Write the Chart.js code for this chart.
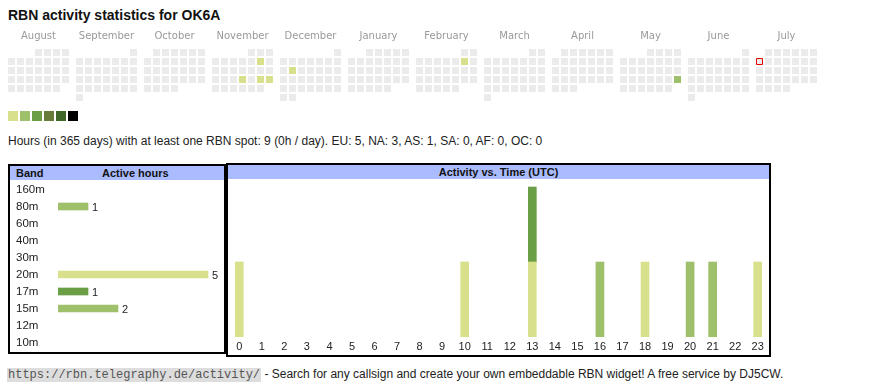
<!DOCTYPE html>
<html>
<head>
<meta charset="utf-8">
<title>RBN activity statistics for OK6A</title>
<script src="https://cdn.jsdelivr.net/npm/chart.js@4.4.1/dist/chart.umd.min.js"></script>
<style>
  body { margin: 0; width: 870px; height: 390px; background: #fff; position: relative; overflow: hidden;
         font-family: Arial, "Liberation Sans", sans-serif; color: #222; }
  .abs { position: absolute; }
  #title { left: 8px; top: 7px; font-size: 14px; font-weight: bold; line-height: 16px; color: #111; }
  #legend { left: 8px; top: 111px; display: flex; gap: 2px; }
  #legend span { width: 10px; height: 10px; }
  #stats { left: 8px; top: 134px; font-size: 12px; line-height: 14px; white-space: nowrap; }
  .box { border: 2px solid #000; box-sizing: border-box; }
  .head { position: absolute; left: 0; right: 0; top: 0; height: 14px; background: #aabbff;
          font-size: 11px; font-weight: bold; line-height: 14px; color: #111; }
  #footer { left: 7px; top: 366px; font-size: 12px; line-height: 16px; white-space: nowrap; }
  #footer code { font-family: "Liberation Mono", "DejaVu Sans Mono", monospace; font-size: 12px;
                 background: #ddd; color: #555; padding: 0 1px; }
  canvas { position: absolute; }
</style>
</head>
<body>
<div id="title" class="abs">RBN activity statistics for OK6A</div>
<canvas id="cal" width="870" height="90" style="left:0;top:20px"></canvas>
<div id="legend" class="abs"></div>
<div id="stats" class="abs">Hours (in 365 days) with at least one RBN spot: 9 (0h / day). EU: 5, NA: 3, AS: 1, SA: 0, AF: 0, OC: 0</div>

<div class="abs box" style="left:8px;top:164px;width:218px;height:190px">
  <div class="head"><span style="position:absolute;left:6px">Band</span><span style="position:absolute;left:92px">Active hours</span></div>
</div>
<div class="abs box" style="left:226px;top:163px;width:545px;height:194px">
  <div class="head" style="text-align:center">Activity vs. Time (UTC)</div>
</div>
<canvas id="bands" width="206" height="170" style="left:16px;top:181px"></canvas>
<canvas id="hours" width="541" height="170" style="left:228px;top:181px"></canvas>

<div id="footer" class="abs"><code>https://rbn.telegraphy.de/activity/</code> - Search for any callsign and create your own embeddable RBN widget! A free service by DJ5CW.</div>

<script>
// calendar: Aug 2024 .. Jul 2025
const months = ['August', 'September', 'October', 'November', 'December', 'January',
                'February', 'March', 'April', 'May', 'June', 'July'];
const firstYear = 2024, firstMonth = 7; // 0-based month
const today = '2025-07-07';
const activeDays = ['2024-11-09', '2024-11-21', '2024-11-23', '2024-11-24', '2024-12-10', '2025-02-08', '2025-05-25'];
const activeDayHours = [1, 1, 1, 1, 1, 1, 2];

// bands
const bands = ['160m', '80m', '60m', '40m', '30m', '20m', '17m', '15m', '12m', '10m'];
const bandHours = [0, 1, 0, 0, 0, 5, 1, 2, 0, 0];

// activity per UTC hour and band
const hours = ['0','1','2','3','4','5','6','7','8','9','10','11','12','13','14','15','16','17','18','19','20','21','22','23'];
const hours20m = [1,0,0,0,0,0,0,0,0,0,1,0,0,1,0,0,0,0,1,0,0,0,0,1];
const hours17m = [0,0,0,0,0,0,0,0,0,0,0,0,0,1,0,0,0,0,0,0,0,0,0,0];
const hours15m = [0,0,0,0,0,0,0,0,0,0,0,0,0,0,0,0,0,0,0,0,1,1,0,0];
const hours80m = [0,0,0,0,0,0,0,0,0,0,0,0,0,0,0,0,1,0,0,0,0,0,0,0];

const levelColors = ['#d9e08b', '#9fc06b', '#6a9f45', '#677b39', '#3f6828', '#000000'];
const bandColors = {'160m': '#d9e08b', '80m': '#9fc06b', '60m': '#9fc06b', '40m': '#9fc06b', '30m': '#9fc06b',
                    '20m': '#d9e08b', '17m': '#6a9f45', '15m': '#9fc06b', '12m': '#9fc06b', '10m': '#9fc06b'};
const emptyColor = '#ebebeb';

Chart.defaults.font.family = 'Arial, "Liberation Sans", sans-serif';
Chart.defaults.animation = false;
Chart.defaults.plugins.legend.display = false;
Chart.defaults.plugins.tooltip.enabled = false;

// 0 = kein Balken
const noZero = arr => arr.map(v => v || null);

// legende
const legend = document.getElementById('legend');
levelColors.forEach(c => {
    const s = document.createElement('span');
    s.style.background = c;
    legend.appendChild(s);
});

// --- calendar heat map (scatter with square points) ---
const monthStep = 68 / 9; // month block width in cell units
const calPoints = [], calColors = [], calBorder = [], calBorderW = [], calRadius = [];
months.forEach((name, m) => {
    const y = firstYear + Math.floor((firstMonth + m) / 12);
    const mo = (firstMonth + m) % 12;
    const days = new Date(Date.UTC(y, mo + 1, 0)).getUTCDate();
    const firstDow = (new Date(Date.UTC(y, mo, 1)).getUTCDay() + 6) % 7;
    for (let d = 1; d <= days; d++) {
        const dow = (firstDow + d - 1) % 7;
        const row = Math.floor((firstDow + d - 1) / 7);
        const iso = y + '-' + String(mo + 1).padStart(2, '0') + '-' + String(d).padStart(2, '0');
        calPoints.push({ x: m * monthStep + dow, y: row });
        const idx = activeDays.indexOf(iso);
        calColors.push(idx >= 0 ? levelColors[Math.min(activeDayHours[idx], levelColors.length) - 1] : emptyColor);
        const isToday = iso === today;
        calBorder.push(isToday ? '#e00000' : 'rgba(0,0,0,0)');
        calBorderW.push(isToday ? 1 : 0);
        calRadius.push(isToday ? 3 / Math.SQRT1_2 : 3.5 / Math.SQRT1_2);
    }
});

new Chart(document.getElementById('cal'), {
    type: 'scatter',
    data: {
        datasets: [{
            data: calPoints,
            pointStyle: 'rect',
            pointRadius: calRadius,
            pointHoverRadius: calRadius,
            backgroundColor: calColors,
            borderColor: calBorder,
            borderWidth: calBorderW
        }]
    },
    options: {
        responsive: false,
        layout: { padding: 0, autoPadding: false },
        scales: {
            x: {
                type: 'linear',
                position: 'top',
                bounds: 'data',
                min: -11.5 / 9,
                max: (870 - 11.5) / 9,
                grid: { display: false, drawTicks: false },
                border: { display: false },
                afterBuildTicks: scale => {
                    scale.ticks = months.map((m, i) => ({ value: i * monthStep + 3 }));
                },
                afterFit: scale => { scale.height = 25; scale.paddingLeft = 0; scale.paddingRight = 0; },
                ticks: {
                    padding: 3,
                    color: '#999',
                    font: { family: '"DejaVu Sans", Verdana, sans-serif', size: 10 },
                    maxRotation: 0,
                    autoSkip: false,
                    callback: (v, i) => months[i]
                }
            },
            y: {
                type: 'linear',
                display: false,
                reverse: true,
                min: -7.5 / 9,
                max: -7.5 / 9 + 65 / 9
            }
        }
    }
});

// --- active hours per band ---
const valueLabels = {
    id: 'valueLabels',
    afterDatasetsDraw(chart) {
        const ctx = chart.ctx;
        ctx.save();
        ctx.font = '11px Arial, "Liberation Sans", sans-serif';
        ctx.fillStyle = '#222';
        ctx.textBaseline = 'middle';
        chart.getDatasetMeta(0).data.forEach((bar, i) => {
            const v = chart.data.datasets[0].data[i];
            if (v > 0) ctx.fillText(v, bar.x + 4, bar.y + 1);
        });
        ctx.restore();
    }
};

new Chart(document.getElementById('bands'), {
    type: 'bar',
    data: {
        labels: bands,
        datasets: [{
            data: noZero(bandHours),
            backgroundColor: bands.map(b => bandColors[b]),
            barThickness: 7
        }]
    },
    options: {
        indexAxis: 'y',
        responsive: false,
        layout: { padding: 0, autoPadding: false },
        scales: {
            x: { display: false, min: 0, max: 164 / 30 },
            y: {
                grid: { display: false, drawTicks: false },
                border: { display: false },
                afterFit: scale => { scale.width = 42; scale.paddingTop = 0; scale.paddingBottom = 0; },
                ticks: {
                    crossAlign: 'far',
                    padding: 0,
                    color: '#222',
                    font: { size: 11.5 }
                }
            }
        }
    },
    plugins: [valueLabels]
});

// --- activity vs. time ---
new Chart(document.getElementById('hours'), {
    type: 'bar',
    data: {
        labels: hours,
        datasets: [
            { label: '20m', data: noZero(hours20m), backgroundColor: bandColors['20m'], barThickness: 8 },
            { label: '17m', data: noZero(hours17m), backgroundColor: bandColors['17m'], barThickness: 8 },
            { label: '15m', data: noZero(hours15m), backgroundColor: bandColors['15m'], barThickness: 8 },
            { label: '80m', data: noZero(hours80m), backgroundColor: bandColors['80m'], barThickness: 8 }
        ]
    },
    options: {
        responsive: false,
        layout: { padding: 0, autoPadding: false },
        scales: {
            x: {
                stacked: true,
                grid: { display: false, drawTicks: false },
                border: { display: false },
                afterFit: scale => { scale.height = 14; scale.paddingLeft = 0; scale.paddingRight = 0; },
                ticks: { padding: 3, color: '#222', font: { size: 11 }, maxRotation: 0, autoSkip: false }
            },
            y: { stacked: true, display: false, min: 0, max: 156 / 75 }
        }
    }
});
</script>
</body>
</html>
